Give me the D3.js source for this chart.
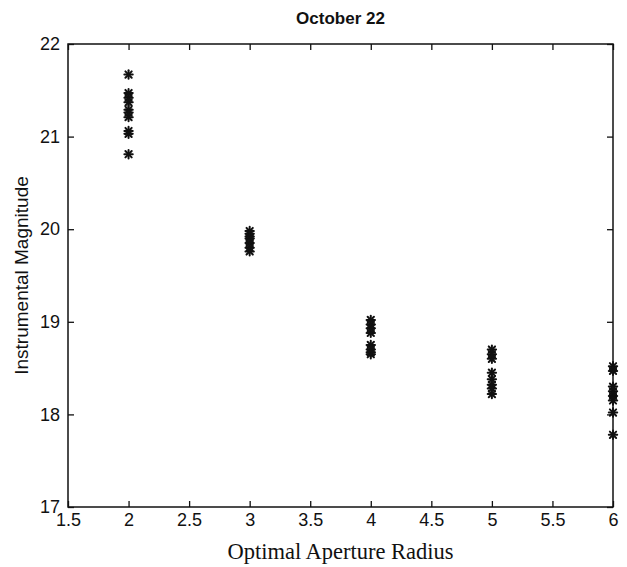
<!DOCTYPE html>
<html><head><meta charset="utf-8">
<script src="https://cdn.jsdelivr.net/npm/d3@7"></script>
<style>body{margin:0;background:#fff}</style>
</head><body>
<svg id="c" width="627" height="567"></svg>
<script>
const radius2 = [21.67, 21.47, 21.42, 21.37, 21.29, 21.26, 21.21, 21.06, 21.03, 20.81];
const radius3 = [19.98, 19.95, 19.92, 19.90, 19.85, 19.80, 19.76];
const radius4 = [19.02, 18.97, 18.93, 18.88, 18.75, 18.70, 18.67, 18.65];
const radius5 = [18.70, 18.65, 18.60, 18.45, 18.38, 18.32, 18.28, 18.22];
const radius6 = [18.52, 18.47, 18.30, 18.25, 18.20, 18.15, 18.02, 17.78];
const radii = [2, 3, 4, 5, 6];
const xTicks = [1.5, 2, 2.5, 3, 3.5, 4, 4.5, 5, 5.5, 6];
const yTicks = [17, 18, 19, 20, 21, 22];

const series = [radius2, radius3, radius4, radius5, radius6];
const points = [];
series.forEach((vals, i) => vals.forEach(v => points.push({x: radii[i], y: v})));

const L = 68, R = 613, T = 44, B = 507;
const x = d3.scaleLinear().domain([1.5, 6]).range([L, R]);
const y = d3.scaleLinear().domain([17, 22]).range([B, T]);
const svg = d3.select("#c");
const ink = "#111";

svg.append("rect").attr("x", L).attr("y", T).attr("width", R - L).attr("height", B - T)
  .attr("fill", "none").attr("stroke", ink).attr("stroke-width", 1.5);

const tickLen = 6;
const fmt = d => String(d);
const xb = svg.append("g").attr("transform", `translate(0,${B})`)
  .call(d3.axisBottom(x).tickValues(xTicks).tickFormat(fmt).tickSizeInner(-tickLen).tickSizeOuter(0).tickPadding(6));
const xt = svg.append("g").attr("transform", `translate(0,${T})`)
  .call(d3.axisTop(x).tickValues(xTicks).tickFormat("").tickSizeInner(-tickLen).tickSizeOuter(0));
const yl = svg.append("g").attr("transform", `translate(${L},0)`)
  .call(d3.axisLeft(y).tickValues(yTicks).tickFormat(fmt).tickSizeInner(-tickLen).tickSizeOuter(0).tickPadding(8));
const yr = svg.append("g").attr("transform", `translate(${R},0)`)
  .call(d3.axisRight(y).tickValues(yTicks).tickFormat("").tickSizeInner(-tickLen).tickSizeOuter(0));
[xb, xt, yl, yr].forEach(g => {
  g.select(".domain").remove();
  g.selectAll("line").attr("stroke", ink).attr("stroke-width", 1.3);
  g.selectAll("text").attr("fill", ink).style("font-family", "'Liberation Sans', Arial, sans-serif").style("font-size", "18px");
});

const s = 4.2;
const mk = svg.append("g").attr("stroke", ink).attr("stroke-width", 2).attr("stroke-linecap", "round");
points.forEach(p => {
  const cx = x(p.x), cy = y(p.y);
  const g = mk.append("g").attr("transform", `translate(${cx},${cy})`);
  g.append("line").attr("x1", -s).attr("x2", s).attr("y1", 0).attr("y2", 0);
  g.append("line").attr("x1", 0).attr("x2", 0).attr("y1", -s).attr("y2", s);
  g.append("line").attr("x1", -s*0.75).attr("x2", s*0.75).attr("y1", -s*0.75).attr("y2", s*0.75);
  g.append("line").attr("x1", -s*0.75).attr("x2", s*0.75).attr("y1", s*0.75).attr("y2", -s*0.75);
});

svg.append("text").attr("x", (L + R) / 2).attr("y", 24).attr("text-anchor", "middle")
  .style("font-family", "'Liberation Sans', Arial, sans-serif").style("font-size", "17px").style("font-weight", "bold")
  .attr("fill", ink).text("October 22");
svg.append("text").attr("x", (L + R) / 2).attr("y", 559).attr("text-anchor", "middle")
  .style("font-family", "'Liberation Serif', 'Times New Roman', serif").style("font-size", "22.5px")
  .attr("fill", ink).text("Optimal Aperture Radius");
svg.append("text").attr("transform", `translate(28,${(T + B) / 2}) rotate(-90)`).attr("text-anchor", "middle")
  .style("font-family", "'Liberation Sans', Arial, sans-serif").style("font-size", "19px")
  .attr("fill", ink).text("Instrumental Magnitude");
</script>
</body></html>
